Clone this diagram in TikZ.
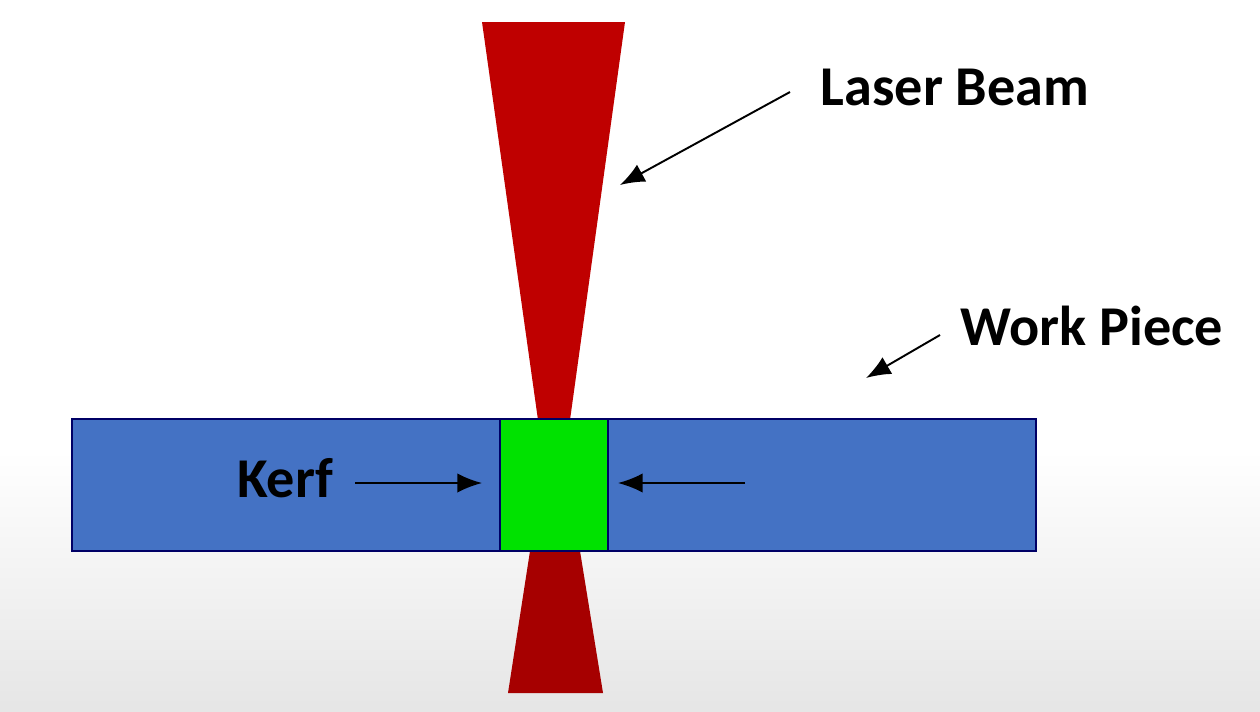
\documentclass[tikz,border=0pt]{standalone}
\usepackage{fontspec}
\setmainfont{Carlito}
\usetikzlibrary{arrows.meta}
\begin{document}
\begin{tikzpicture}[x=0.02cm,y=-0.02cm,
  lbl/.style={font=\bfseries\fontsize{32}{34}\selectfont,text=black,inner sep=0pt},
  arr/.style={-{Latex[length=14pt,width=11pt]},line width=1.1pt}]
\useasboundingbox (0,0) rectangle (1260,711);
\fill[white] (0,0) rectangle (1260,711);
\shade[top color=white,bottom color=black!10] (0,450) rectangle (1260,711);
\fill[red!75!black] (482,22) -- (625,22) -- (570,420) -- (538,420) -- cycle;
\fill[red!65!black] (530,551) -- (580,551) -- (603,693) -- (508,693) -- cycle;
\node[draw=blue!40!black,fill={rgb,255:red,68;green,114;blue,196},line width=0.8pt,minimum width=964*0.02cm,minimum height=132*0.02cm,inner sep=0pt] (wp) at (554,485) {};
\node[draw=blue!40!black,fill={rgb,255:red,0;green,226;blue,0},line width=0.8pt,minimum width=108*0.02cm,minimum height=132*0.02cm,inner sep=0pt] (kerfbox) at (554,485) {};
\node[lbl] (lb) at (955,87) {Laser Beam};
\node[lbl] (wpl) at (1092,326) {Work Piece};
\node[lbl] (kf) at (285,478) {Kerf};
\coordinate (a1s) at (790,92); \coordinate (a1e) at (620,185);
\coordinate (a2s) at (940,335); \coordinate (a2e) at (866,378);
\coordinate (k1s) at (355,483); \coordinate (k1e) at (482,483);
\coordinate (k2s) at (745,483); \coordinate (k2e) at (618,483);
\draw[arr] (a1s) -- (a1e);
\draw[arr] (a2s) -- (a2e);
\draw[arr] (k1s) -- (k1e);
\draw[arr] (k2s) -- (k2e);
\end{tikzpicture}
\end{document}
